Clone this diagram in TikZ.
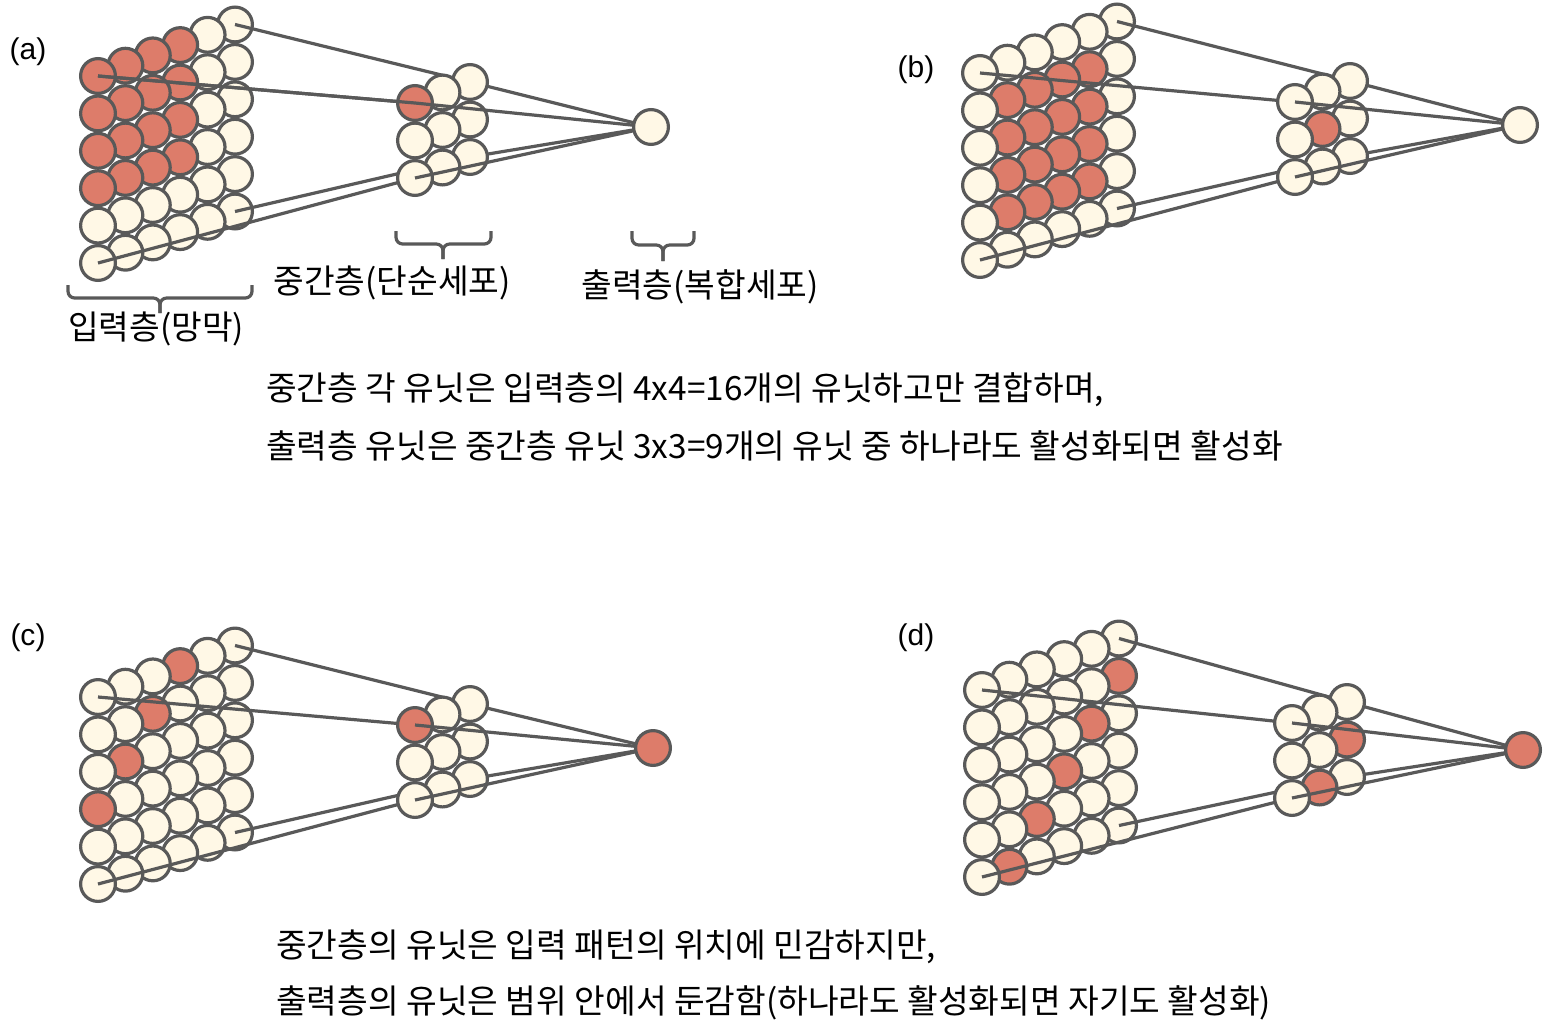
\documentclass[tikz,border=0pt]{standalone}
\usepackage{fontspec}
\newfontfamily\kr{Noto Sans CJK KR}
\newfontfamily\lat{Liberation Sans}
\definecolor{linegray}{HTML}{595959}
\definecolor{cellred}{HTML}{DD7C6A}
\definecolor{cream}{HTML}{FFF8E6}
\pgfdeclarelayer{l1}\pgfdeclarelayer{l2}\pgfdeclarelayer{l3}\pgfdeclarelayer{l4}
\pgfsetlayers{l1,l2,l3,l4,main}
\tikzset{
 cell/.style={circle,draw=linegray,line width=2.4pt,fill=cream,minimum size=26.1pt,inner sep=0pt},
 redcell/.style={cell,fill=cellred},
 conn/.style={draw=linegray,line width=2.4pt},
 brc/.style={draw=linegray,line width=2.4pt,rounded corners=5pt},
 txt/.style={font=\kr\fontsize{25pt}{30pt}\selectfont,inner sep=0pt,text=black},
 plabel/.style={font=\lat\fontsize{22.5pt}{27pt}\selectfont,inner sep=0pt,text=black},
}
% #1 name, #2 input origin, #3 middle origin, #4 output position,
% #5 input red condition, #6 middle red condition, #7 output style
\newcommand\panel[7]{%
 \begin{pgfonlayer}{l1}
  \begin{scope}[shift={#2}]
   \foreach \ci in {5,4,...,0}{\foreach \ri in {0,...,5}{%
     \pgfmathtruncatemacro\isred{#5}%
     \ifnum\isred=1 \node[redcell] (#1i\ci\ri) at (\ci*27.4,\ri*37.4-\ci*10.3) {};%
     \else \node[cell] (#1i\ci\ri) at (\ci*27.4,\ri*37.4-\ci*10.3) {};\fi}}
  \end{scope}
 \end{pgfonlayer}
 \begin{pgfonlayer}{l3}
  \begin{scope}[shift={#3}]
   \foreach \ci in {2,1,0}{\foreach \ri in {0,1,2}{%
     \pgfmathtruncatemacro\isred{#6}%
     \ifnum\isred=1 \node[redcell] (#1m\ci\ri) at (\ci*27.5,\ri*37.5-\ci*10.5) {};%
     \else \node[cell] (#1m\ci\ri) at (\ci*27.5,\ri*37.5-\ci*10.5) {};\fi}}
  \end{scope}
 \end{pgfonlayer}
 \node[#7] (#1o) at #4 {};
 \begin{pgfonlayer}{l2}
  \draw[conn] (#1i50.center) -- (#1m20.center);
  \draw[conn] (#1i00.center) -- (#1m00.center);
  \draw[conn] (#1i55.center) -- (#1m22.center);
  \draw[conn] (#1i05.center) -- (#1m02.center);
  \draw[conn] (#1m20.center) -- (#1o.center);
  \draw[conn] (#1m22.center) -- (#1o.center);
 \end{pgfonlayer}
 \begin{pgfonlayer}{l4}
  \draw[conn] (#1m00.center) -- (#1o.center);
  \draw[conn] (#1m02.center) -- (#1o.center);
 \end{pgfonlayer}
}
\begin{document}
\begin{tikzpicture}[x=0.75pt,y=-0.75pt]
\useasboundingbox (0,0) rectangle (1558,1035);

\panel{a}{(98,76)}{(415,103)}{(651,127)}{and(\ci<4,\ri<4)}{and(\ci==0,\ri==0)}{cell}
\begin{pgfonlayer}{l4}
 \draw[conn] (ai00.center) -- (am00.center);
\end{pgfonlayer}
\panel{b}{(980,73)}{(1295,102)}{(1520,125)}{and(and(\ci>0,\ci<5),and(\ri>0,\ri<5))}{and(\ci==1,\ri==1)}{cell}
\panel{c}{(98,697)}{(415,725)}{(653,748)}{\ci+\ri==3}{and(\ci==0,\ri==0)}{redcell}
\panel{d}{(982,690)}{(1292,723)}{(1523,750)}{\ci+\ri==6}{\ci+\ri==3}{redcell}

% braces
\draw[brc] (68,285) -- (68,298) -- (160,298) -- (160,313);
\draw[brc] (252,285) -- (252,298) -- (160,298) -- (160,313);
\draw[brc] (396,231) -- (396,244) -- (443,244) -- (443,259);
\draw[brc] (491,231) -- (491,244) -- (443,244) -- (443,259);
\draw[brc] (632,231) -- (632,245) -- (663,245) -- (663,261);
\draw[brc] (694,231) -- (694,245) -- (663,245) -- (663,261);

% panel labels
\node[plabel] (pa) at (28,52) {(a)};
\node[plabel] (pb) at (916,70) {(b)};
\node[plabel] (pc) at (28,638) {(c)};
\node[plabel] (pd) at (916,638) {(d)};

% layer labels
\node[txt] (lin) at (156,329) {입력층(망막)};
\node[txt] (lmid) at (392,283) {중간층(단순세포)};
\node[txt] (lout) at (700,287) {출력층(복합세포)};

% captions
\node[txt,anchor=west] (t1) at (266,390) {중간층 각 유닛은 입력층의 4x4=16개의 유닛하고만 결합하며,};
\node[txt,anchor=west] (t2) at (266,446) {출력층 유닛은 중간층 유닛 3x3=9개의 유닛 중 하나라도 활성화되면 활성화};
\node[txt,anchor=west] (t3) at (276,947) {중간층의 유닛은 입력 패턴의 위치에 민감하지만,};
\node[txt,anchor=west] (t4) at (276,1003) {출력층의 유닛은 범위 안에서 둔감함(하나라도 활성화되면 자기도 활성화)};
\end{tikzpicture}
\end{document}
